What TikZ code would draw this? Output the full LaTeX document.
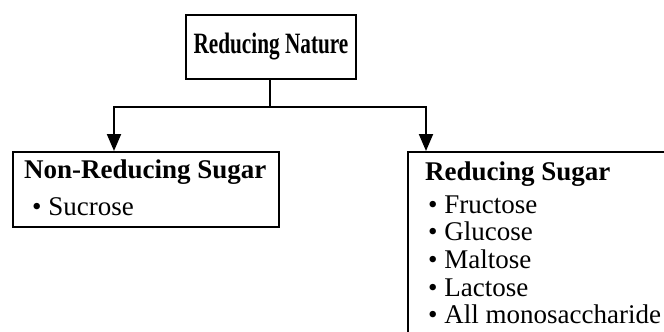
\documentclass[tikz,border=0pt]{standalone}
\usepackage{fontspec}
\setmainfont{Liberation Serif}
\newfontfamily\narrowserif[FakeStretch=0.72]{Liberation Serif}
\usepackage{tikz}
\usetikzlibrary{arrows.meta,positioning}
\tikzset{
  box/.style={draw, line width=2pt, inner sep=0pt, anchor=north west},
  conn/.style={line width=2pt, -{Triangle[width=14pt,length=17pt]}},
  head/.style={anchor=base west, inner sep=0pt, font=\fontsize{27}{28}\selectfont\bfseries},
  item/.style={anchor=base west, inner sep=0pt, font=\fontsize{27}{28}\selectfont},
}

\begin{document}
\begin{tikzpicture}[x=1pt, y=-1pt]
\useasboundingbox (0,0) rectangle (664,332);
\clip (0,0) rectangle (664,332);

% root
\node[box, minimum width=170pt, minimum height=64pt] (nature) at (185,14) {};
\node[anchor=base, inner sep=0pt, font=\fontsize{29.5}{30}\narrowserif\bfseries] (naturetext) at (271,53) {Reducing Nature};

% the two groups
\node[box, minimum width=266pt, minimum height=75pt] (nonred) at (12,151) {};
\node[box, minimum width=400pt, minimum height=260pt] (red) at (407,151) {};

% connectors
\coordinate (split) at (270,107);
\coordinate (lsplit) at (114,107);
\coordinate (rsplit) at (426,107);
\draw[line width=2pt] (nature.south -| split) -- (split);
\draw[conn] (split) -- (lsplit) -- (lsplit |- nonred.north);
\draw[conn] (split) -- (rsplit) -- (rsplit |- red.north);

% non-reducing sugar
\node[head] (nonredtitle) at (24,178) {Non-Reducing Sugar};
\node[item] (sucrose) at (32,215) {• Sucrose};

% reducing sugar
\node[head] (redtitle) at (425,180) {Reducing Sugar};
\foreach \name/\y in {Fructose/213, Glucose/240, Maltose/268, Lactose/296, All monosaccharide/323}
  \node[item] (\name) at (428,\y) {• \name};

\end{tikzpicture}
\end{document}
